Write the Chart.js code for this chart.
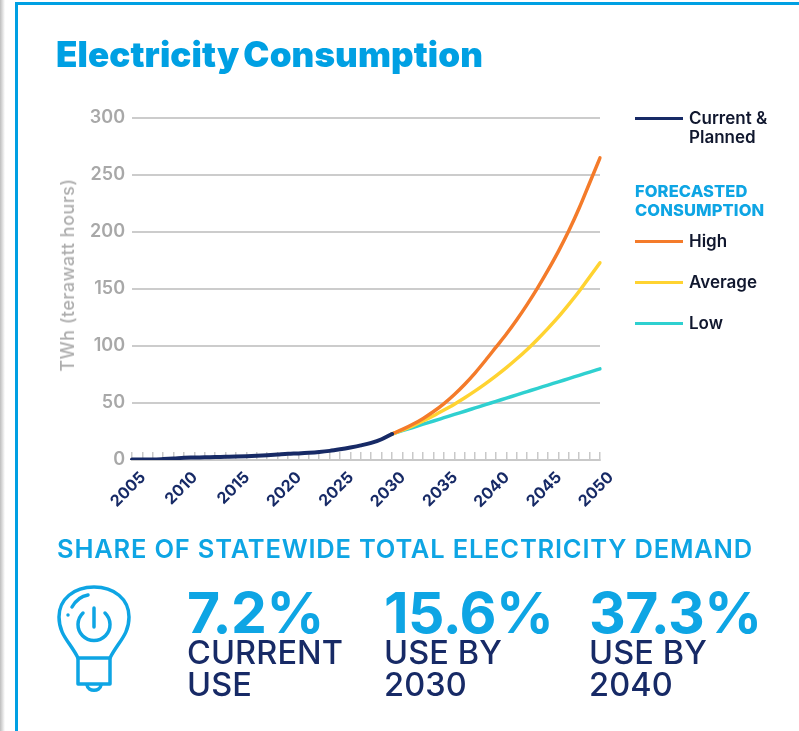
<!DOCTYPE html>
<html><head><meta charset="utf-8">
<script src="https://cdn.jsdelivr.net/npm/chart.js@4"></script>
<style>
html,body{margin:0;padding:0;background:#fff;overflow:hidden}
#page{position:relative;width:799px;height:731px;overflow:hidden;background:#fff;font-family:Inter,Roboto,sans-serif}
#shade{position:absolute;left:0;top:0;width:5px;height:731px;background:linear-gradient(90deg,#bdbdbd,#fff)}
#frame{position:absolute;left:15px;top:2px;width:800px;height:760px;border:3px solid #00a0e3;box-sizing:border-box}
canvas{position:absolute;left:0;top:0}
.t{position:absolute;white-space:nowrap;line-height:1}
.sw{position:absolute;left:635px;width:48px;height:3px}
</style></head><body>
<div id="page">
<div id="shade"></div><div id="frame"></div>
<canvas id="c" width="799" height="731"></canvas>
<div class="t" style="left:56px;top:37px;font-size:35px;font-weight:900;color:#00a0e3;letter-spacing:0.1px;word-spacing:-3px">Electricity Consumption</div>
<div class="t" style="left:57px;top:536px;font-size:25.5px;font-weight:600;color:#0ea5e4;letter-spacing:0.8px">SHARE OF STATEWIDE TOTAL ELECTRICITY DEMAND</div>
<div class="t" style="left:68px;top:275px;font-size:18px;font-weight:500;color:#adadad;letter-spacing:0.5px;transform:translate(-50%,-50%) rotate(-90deg)">TWh (terawatt hours)</div>
<svg style="position:absolute;left:50px;top:580px" width="90" height="120" viewBox="0 0 90 120" fill="none" stroke="#0ea5e4" stroke-width="3.5" stroke-linecap="round" stroke-linejoin="round">
<path d="M28 78 C20 62 9 55 9 37 C9 19 24 7 44 7 C64 7 79 19 79 37 C79 55 68 62 60 78 Z"/>
<path d="M28 78 V104 H60 V78"/><path d="M37 105 C38 112 50 112 51 105"/>
<path d="M44 28 V47"/><path d="M33 33 A16 16 0 1 0 55 33"/>
<path d="M22 27 C26 20 32 16 38 15"/><path d="M18 35 V35.1"/>
</svg>
<div id="legend"></div>
<div id="stats"></div>
</div>
<script>
const years = [2005,2006,2007,2008,2009,2010,2011,2012,2013,2014,2015,2016,2017,2018,2019,2020,2021,2022,2023,2024,2025,2026,2027,2028,2029,2030,2031,2032,2033,2034,2035,2036,2037,2038,2039,2040,2041,2042,2043,2044,2045,2046,2047,2048,2049,2050];
const n = null;
const currentPlanned = [0.5,0.5,0.5,0.8,1.3,2,2.2,2.4,2.6,2.8,3,3.3,3.7,4.2,4.8,5.4,5.8,6.3,7,8,9.4,11,12.8,15,18.2,22.8,n,n,n,n,n,n,n,n,n,n,n,n,n,n,n,n,n,n,n,n];
const high = [n,n,n,n,n,n,n,n,n,n,n,n,n,n,n,n,n,n,n,n,n,n,n,n,n,22.8,26.8,31.3,36.5,42.5,49.5,57.5,66.5,76.5,87.5,99,110.5,123,136.5,151,166.5,183,201,221,243,265];
const average = [n,n,n,n,n,n,n,n,n,n,n,n,n,n,n,n,n,n,n,n,n,n,n,n,n,22.8,26.2,30,34.2,38.8,43.8,49,54.6,60.6,67,73.8,81,88.8,97,106,115.5,125.5,136.5,148,160.5,173];
const low = [n,n,n,n,n,n,n,n,n,n,n,n,n,n,n,n,n,n,n,n,n,n,n,n,n,22.8,25.7,28.5,31.4,34.2,37.1,40,42.8,45.7,48.6,51.4,54.3,57.1,60,62.9,65.7,68.6,71.4,74.3,77.1,80];
const yTicks = [0,50,100,150,200,250,300];
const seriesNames = ["Current & Planned","High","Average","Low"];
const seriesColors = ["#172a66","#f47b2a","#ffd331","#2fd0d0"];
const stats = [["7.2%","CURRENT","USE"],["15.6%","USE BY","2030"],["37.3%","USE BY","2040"]];

const leg = document.getElementById('legend');
function txt(x,y,s,css){const d=document.createElement('div');d.className='t';d.textContent=s;d.style.cssText=`left:${x}px;top:${y}px;`+css;leg.appendChild(d);}
function sw(y,c){const d=document.createElement('div');d.className='sw';d.style.cssText=`top:${y}px;background:${c}`;leg.appendChild(d);}
const legFont='font-size:17px;font-weight:600;color:#10172e;';
const headFont='font-size:16.5px;font-weight:800;color:#0ea5e4;letter-spacing:0.1px;';
sw(117,seriesColors[0]);
txt(689,110,"Current &",legFont);txt(689,129,"Planned",legFont);
txt(635,183,"FORECASTED",headFont);
txt(635,202,"CONSUMPTION",headFont);
[[1,240,233],[2,281,274],[3,322,315]].forEach(([i,ys,yt])=>{sw(ys,seriesColors[i]);txt(689,yt,seriesNames[i],legFont);});

const st = document.getElementById('stats');
[187,384,589].forEach((x,i)=>{
  const mk=(y,s,css)=>{const d=document.createElement('div');d.className='t';d.textContent=s;d.style.cssText=`left:${x}px;top:${y}px;`+css;st.appendChild(d);};
  mk(584,stats[i][0],'font-size:57px;font-weight:700;color:#0ea5e4;letter-spacing:-0.5px;');
  mk(637,stats[i][1],'font-size:32.5px;font-weight:500;color:#172a66;letter-spacing:0.1px;');
  mk(669,stats[i][2],'font-size:32.5px;font-weight:500;color:#172a66;letter-spacing:0.1px;');
});

const ds = (label,data,color,w)=>({label,data,borderColor:color,borderWidth:w,pointRadius:0,fill:false,cubicInterpolationMode:'monotone',spanGaps:false,borderCapStyle:'round'});
new Chart(document.getElementById('c'),{
  type:'line',
  data:{labels:years,datasets:[ds(seriesNames[0],currentPlanned,seriesColors[0],4),ds(seriesNames[1],high,seriesColors[1],3.5),ds(seriesNames[2],average,seriesColors[2],3.5),ds(seriesNames[3],low,seriesColors[3],3.5)]},
  options:{
    responsive:false,animation:false,
    layout:{padding:{left:0,top:118,right:199,bottom:0}},
    plugins:{legend:{display:false},tooltip:{enabled:false}},
    scales:{
      x:{type:'category',offset:false,
        afterFit(s){s.height=271;},
        border:{color:'#c9c9c9',width:2},
        grid:{drawOnChartArea:false,drawTicks:true,tickLength:-8,color:'#c9c9c9',lineWidth:1.5},
        ticks:{autoSkip:false,minRotation:45,maxRotation:45,padding:16,labelOffset:11,color:seriesColors[0],font:{family:'Inter',size:16,weight:'700'},
          callback(v,i){const y=years[i];return y%5===0?String(y):'';}}
      },
      y:{min:0,max:300,
        afterBuildTicks(s){s.ticks=yTicks.map(v=>({value:v}));},
        afterFit(s){s.width=132;},
        border:{display:false},
        grid:{color:'#cccccc',lineWidth:2,drawTicks:false},
        ticks:{padding:7,color:'#a8a8a8',font:{family:'Inter',size:18,weight:'600'}}
      }
    }
  }
});
</script>
</body></html>
